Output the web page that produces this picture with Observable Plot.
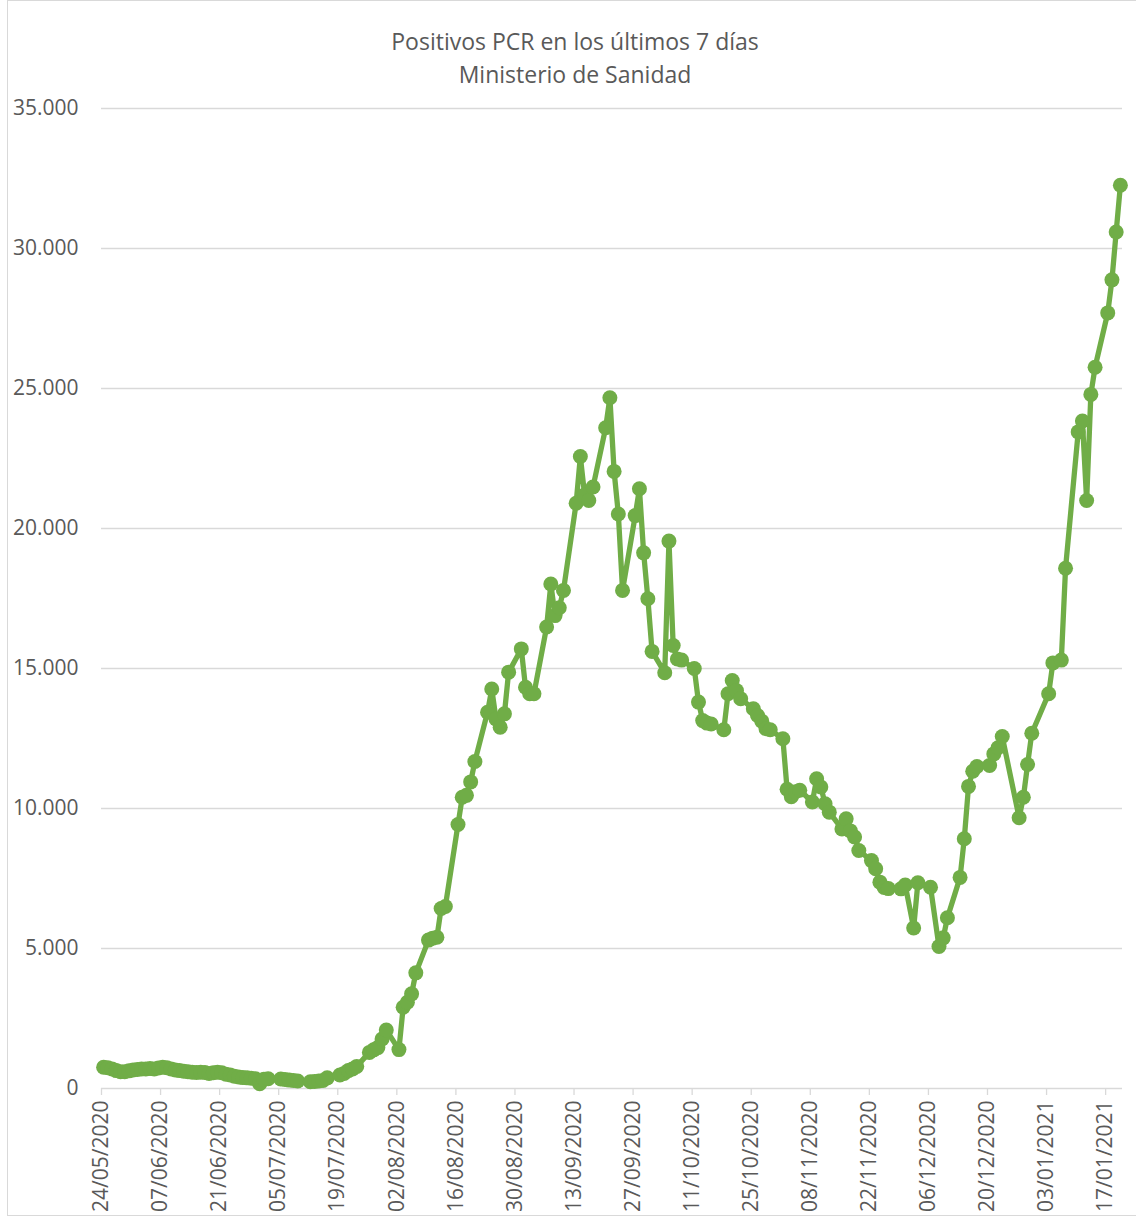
<!DOCTYPE html>
<html>
<head>
<meta charset="utf-8">
<script src="https://cdn.jsdelivr.net/npm/d3@7"></script>
<script src="https://cdn.jsdelivr.net/npm/@observablehq/plot@0.6"></script>
<style>
  html, body { margin: 0; padding: 0; background: #fff; }
  #wrap { position: relative; width: 1136px; height: 1220px; overflow: hidden; font-family: "Open Sans", sans-serif; }
  #frame { position: absolute; left: 7px; top: 0; width: 1200px; height: 1216px; border-left: 1px solid #d9d9d9; border-top: 1px solid #d9d9d9; border-bottom: 1px solid #d9d9d9; box-sizing: border-box; }
  #title { position: absolute; left: 0; width: 1150px; top: 25px; text-align: center; color: #595959; font-size: 23px; line-height: 33px; }
  #chart { position: absolute; left: 0; top: 0; }
</style>
</head>
<body>
<div id="wrap">
  <div id="frame"></div>
  <div id="chart"></div>
  <div id="title">Positivos PCR en los últimos 7 días<br>Ministerio de Sanidad</div>
</div>
<script>
// ---- data ----
const dates = [
  "2020-05-24","2020-05-25","2020-05-26","2020-05-27","2020-05-28","2020-05-29","2020-05-30","2020-05-31",
  "2020-06-01","2020-06-02","2020-06-03","2020-06-04","2020-06-05","2020-06-06","2020-06-07","2020-06-08",
  "2020-06-09","2020-06-10","2020-06-11","2020-06-12","2020-06-13","2020-06-14","2020-06-15","2020-06-16",
  "2020-06-17","2020-06-18","2020-06-19","2020-06-20","2020-06-21","2020-06-22","2020-06-23","2020-06-24",
  "2020-06-25","2020-06-26","2020-06-27","2020-06-28","2020-06-29","2020-06-30","2020-07-01","2020-07-02",
  "2020-07-05","2020-07-06","2020-07-07","2020-07-08","2020-07-09",
  "2020-07-12","2020-07-13","2020-07-14","2020-07-15","2020-07-16",
  "2020-07-19","2020-07-20","2020-07-21","2020-07-22","2020-07-23",
  "2020-07-26","2020-07-27","2020-07-28","2020-07-29","2020-07-30",
  "2020-08-02","2020-08-03","2020-08-04","2020-08-05","2020-08-06",
  "2020-08-09","2020-08-10","2020-08-11","2020-08-12","2020-08-13",
  "2020-08-16","2020-08-17","2020-08-18","2020-08-19","2020-08-20",
  "2020-08-23","2020-08-24","2020-08-25","2020-08-26","2020-08-27","2020-08-28",
  "2020-08-31","2020-09-01","2020-09-02","2020-09-03",
  "2020-09-06","2020-09-07","2020-09-08","2020-09-09","2020-09-10",
  "2020-09-13","2020-09-14","2020-09-15","2020-09-16","2020-09-17",
  "2020-09-20","2020-09-21","2020-09-22","2020-09-23","2020-09-24",
  "2020-09-27","2020-09-28","2020-09-29","2020-09-30","2020-10-01",
  "2020-10-04","2020-10-05","2020-10-06","2020-10-07","2020-10-08",
  "2020-10-11","2020-10-12","2020-10-13","2020-10-14","2020-10-15",
  "2020-10-18","2020-10-19","2020-10-20","2020-10-21","2020-10-22",
  "2020-10-25","2020-10-26","2020-10-27","2020-10-28","2020-10-29",
  "2020-11-01","2020-11-02","2020-11-03","2020-11-04","2020-11-05",
  "2020-11-08","2020-11-09","2020-11-10","2020-11-11","2020-11-12",
  "2020-11-15","2020-11-16","2020-11-17","2020-11-18","2020-11-19",
  "2020-11-22","2020-11-23","2020-11-24","2020-11-25","2020-11-26",
  "2020-11-29","2020-11-30","2020-12-02","2020-12-03",
  "2020-12-06","2020-12-08","2020-12-09","2020-12-10",
  "2020-12-13","2020-12-14","2020-12-15","2020-12-16","2020-12-17",
  "2020-12-20","2020-12-21","2020-12-22","2020-12-23",
  "2020-12-27","2020-12-28","2020-12-29","2020-12-30",
  "2021-01-03","2021-01-04","2021-01-06","2021-01-07",
  "2021-01-10","2021-01-11","2021-01-12","2021-01-13","2021-01-14",
  "2021-01-17","2021-01-18","2021-01-19","2021-01-20"
];
const positivos = [
  760,740,700,640,600,600,630,660,
  680,700,700,710,700,730,760,740,
  700,660,640,620,600,580,570,580,
  570,540,560,580,560,510,480,440,
  410,390,380,370,350,170,330,350,
  340,320,300,290,270,
  240,250,270,290,380,
  480,540,640,700,790,
  1290,1380,1460,1770,2090,
  1390,2900,3080,3380,4130,
  5300,5370,5400,6430,6500,
  9430,10400,10470,10950,11680,
  13440,14270,13200,12900,13380,14870,
  15700,14330,14100,14100,
  16480,18020,16890,17170,17790,
  20900,22570,21200,21000,21480,
  23600,24670,22040,20520,17790,
  20460,21420,19130,17490,15610,
  14850,19550,15820,15340,15300,
  15000,13800,13140,13050,13020,
  12810,14100,14570,14210,13920,
  13560,13320,13120,12850,12810,
  12490,10690,10420,10600,10650,
  10230,11060,10770,10170,9870,
  9270,9630,9200,8980,8500,
  8140,7850,7370,7180,7140,
  7130,7270,5730,7350,
  7190,5070,5380,6100,
  7540,8920,10790,11330,11500,
  11540,11950,12170,12570,
  9670,10400,11570,12690,
  14100,15200,15300,18580,
  23450,23840,21000,24790,25760,
  27700,28880,30590,32260
];
const xTickLabels = ["24/05/2020","07/06/2020","21/06/2020","05/07/2020","19/07/2020","02/08/2020",
  "16/08/2020","30/08/2020","13/09/2020","27/09/2020","11/10/2020","25/10/2020","08/11/2020",
  "22/11/2020","06/12/2020","20/12/2020","03/01/2021","17/01/2021"];
const yTicks = [0,5000,10000,15000,20000,25000,30000,35000];
const xDomain = ["24/05/2020","21/01/2021"];

// ---- build ----
const parseISO = d3.utcParse("%Y-%m-%d");
const parseES = d3.utcParse("%d/%m/%Y");
const fmtES = d3.utcFormat("%d/%m/%Y");
const numES = d3.formatLocale({decimal: ",", thousands: ".", grouping: [3], currency: ["", " €"]}).format(",");
// Excel date axis "between tick marks": each day occupies a slot, point at slot centre
const data = dates.map((d, i) => ({date: d3.utcHour.offset(parseISO(d), 12), value: positivos[i]}));

const chart = Plot.plot({
  width: 1136,
  height: 1220,
  marginTop: 108,
  marginBottom: 132,
  marginLeft: 101,
  marginRight: 14,
  style: {fontFamily: "'Open Sans', sans-serif", fontSize: "21px", color: "#595959", background: "transparent", overflow: "visible"},
  x: {type: "utc", domain: xDomain.map(parseES)},
  y: {domain: [0, 35000]},
  marks: [
    Plot.gridY(yTicks.filter(v => v > 0), {stroke: "#d9d9d9", strokeOpacity: 1, strokeWidth: 1.3}),
    Plot.ruleY([0], {stroke: "#d9d9d9", strokeWidth: 1.3}),
    Plot.axisY(yTicks, {tickSize: 0, tickPadding: 23, tickFormat: numES, fontSize: 21, fill: "#595959", label: null}),
    Plot.axisX(xTickLabels.map(parseES), {tickFormat: fmtES, tickRotate: -90, tickSize: 7, tickPadding: 5, fontSize: 21,
      stroke: "#d9d9d9", strokeWidth: 1.3, fill: "#595959", label: null}),
    Plot.line(data, {x: "date", y: "value", stroke: "#70AD47", strokeWidth: 5.3, strokeLinejoin: "round"}),
    Plot.dot(data, {x: "date", y: "value", r: 7.5, fill: "#70AD47", stroke: "none"})
  ]
});
document.getElementById("chart").appendChild(chart);
</script>
</body>
</html>
